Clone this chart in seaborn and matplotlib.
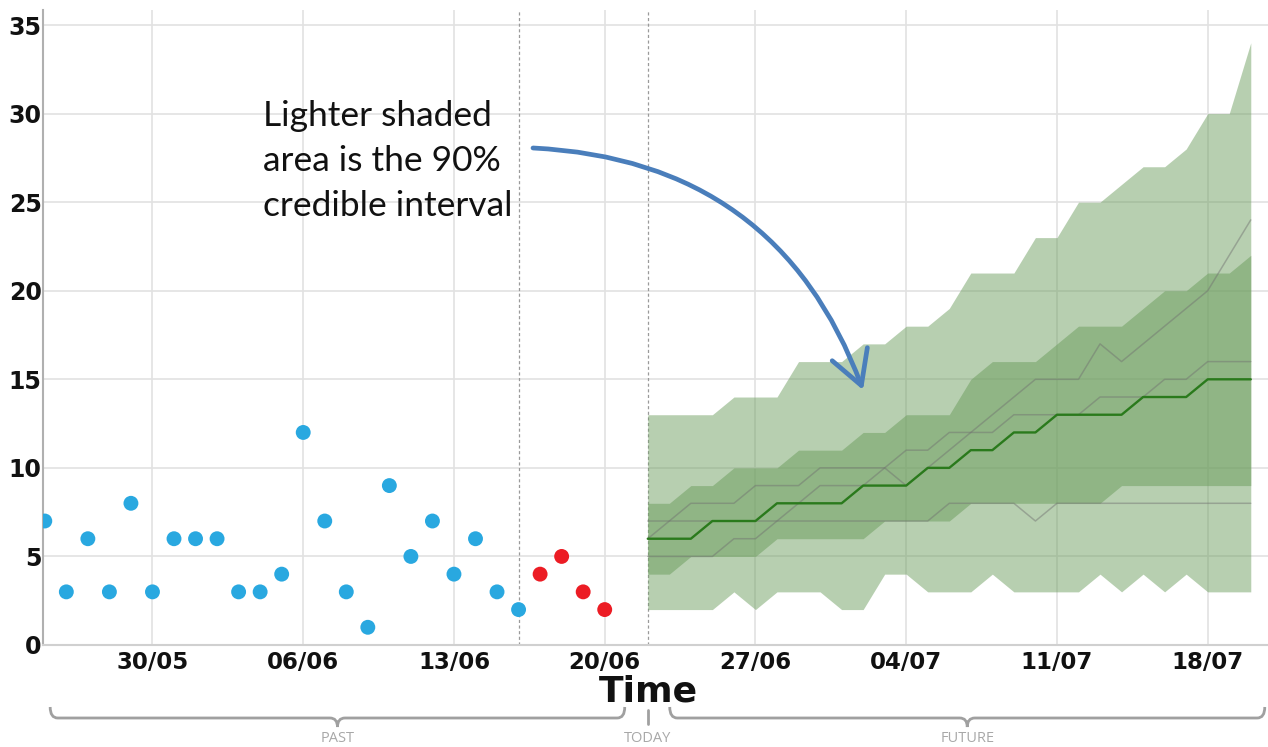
import numpy as np
import pandas as pd
import matplotlib
matplotlib.use("Agg")
import matplotlib.pyplot as plt
import matplotlib.dates as mdates
import matplotlib.transforms as mtransforms
from matplotlib.path import Path
from matplotlib.patches import PathPatch
import seaborn as sns

# ---------------- data ----------------
past_start = "2016-05-25"
past_values = [7, 3, 6, 3, 8, 3, 6, 6, 6, 3, 3, 4, 12, 7, 3, 1, 9, 5, 7, 4, 6, 3, 2]
recent_start = "2016-06-17"
recent_values = [4, 5, 3, 2]
cutoff_date = "2016-06-16"
today_date = "2016-06-22"

forecast_start = "2016-06-22"
median = [6, 6, 6, 7, 7, 7, 8, 8, 8, 8, 9, 9, 9, 10, 10, 11, 11, 12, 12, 13, 13, 13, 13, 14, 14, 14, 15, 15, 15]
inner_low = [4, 4, 5, 5, 5, 5, 6, 6, 6, 6, 6, 7, 7, 7, 7, 8, 8, 8, 8, 8, 8, 8, 9, 9, 9, 9, 9, 9, 9]
inner_high = [8, 8, 9, 9, 10, 10, 10, 11, 11, 11, 12, 12, 13, 13, 13, 15, 16, 16, 16, 17, 18, 18, 18, 19, 20, 20, 21, 21, 22]
outer_low = [2, 2, 2, 2, 3, 2, 3, 3, 3, 2, 2, 4, 4, 3, 3, 3, 4, 3, 3, 3, 3, 4, 3, 4, 3, 4, 3, 3, 3]
outer_high = [13, 13, 13, 13, 14, 14, 14, 16, 16, 16, 17, 17, 18, 18, 19, 21, 21, 21, 23, 23, 25, 25, 26, 27, 27, 28, 30, 30, 34]
traj_low = [7, 7, 7, 7, 7, 7, 7, 7, 7, 7, 7, 7, 7, 7, 8, 8, 8, 8, 7, 8, 8, 8, 8, 8, 8, 8, 8, 8, 8]
traj_mid = [5, 5, 5, 5, 6, 6, 7, 8, 9, 9, 9, 10, 11, 11, 12, 12, 12, 13, 13, 13, 13, 14, 14, 14, 15, 15, 16, 16, 16]
traj_high = [6, 7, 8, 8, 8, 9, 9, 9, 10, 10, 10, 10, 9, 10, 11, 12, 13, 14, 15, 15, 15, 17, 16, 17, 18, 19, 20, 22, 24]

x_tick_labels = ["30/05", "06/06", "13/06", "20/06", "27/06", "04/07", "11/07", "18/07"]
y_ticks = [0, 5, 10, 15, 20, 25, 30, 35]

annotation_text = "Lighter shaded\narea is the 90%\ncredible interval"
x_label = "Time"
brace_labels = ["PAST", "TODAY", "FUTURE"]

# ---------------- frames ----------------
past_dates = pd.date_range(past_start, periods=len(past_values), freq="D")
recent_dates = pd.date_range(recent_start, periods=len(recent_values), freq="D")
obs = pd.DataFrame({
    "date": list(past_dates) + list(recent_dates),
    "value": past_values + recent_values,
    "period": ["past"] * len(past_values) + ["recent"] * len(recent_values),
})
fc_dates = pd.date_range(forecast_start, periods=len(median), freq="D")
fc = pd.DataFrame({
    "date": fc_dates, "median": median,
    "inner_low": inner_low, "inner_high": inner_high,
    "outer_low": outer_low, "outer_high": outer_high,
    "traj_low": traj_low, "traj_mid": traj_mid, "traj_high": traj_high,
})
tick_dates = pd.to_datetime(["2016-" + t[3:] + "-" + t[:2] for t in x_tick_labels])

# ---------------- style ----------------
sns.set_style("white")
plt.rcParams["font.family"] = ["DejaVu Sans"]

fig = plt.figure(figsize=(12.68, 7.47), dpi=100)
ax = fig.add_axes([43 / 1268, 102 / 747, 1225 / 1268, 635 / 747])

band_color = "#70a062"
ax.fill_between(fc["date"], fc["outer_low"], fc["outer_high"], color=band_color, alpha=0.5, lw=0, zorder=2)
ax.fill_between(fc["date"], fc["inner_low"], fc["inner_high"], color=band_color, alpha=0.55, lw=0, zorder=3)

for col in ["traj_low", "traj_mid", "traj_high"]:
    sns.lineplot(data=fc, x="date", y=col, color="#6f6f6f", alpha=0.45, lw=1.1, ax=ax, zorder=4)
sns.lineplot(data=fc, x="date", y="median", color="#2a7a1c", lw=1.7, ax=ax, zorder=5)

sns.scatterplot(data=obs, x="date", y="value", hue="period",
                palette={"past": "#29a8e0", "recent": "#ec1c24"},
                s=115, linewidth=0, legend=False, ax=ax, zorder=6)

for d in [cutoff_date, today_date]:
    ax.axvline(pd.Timestamp(d), color="#9a9a9a", lw=0.9, ls=(0, (2.5, 2)), zorder=1)

# axes limits
x0 = pd.Timestamp(past_start) - pd.Timedelta(hours=2)
x1 = pd.Timestamp(past_start) + pd.Timedelta(days=56.8)
ax.set_xlim(x0, x1)
ax.set_ylim(0, 35.85)

ax.set_xticks(tick_dates)
ax.set_xticklabels(x_tick_labels)
ax.set_yticks(y_ticks)
ax.tick_params(axis="both", length=0, labelsize=17, colors="#111111")
ax.tick_params(axis="y", pad=1)
ax.tick_params(axis="x", pad=4, labelsize=16.5)
for lab in ax.get_xticklabels() + ax.get_yticklabels():
    lab.set_fontweight("bold")

ax.grid(True, color="#e2e2e2", lw=1.2)
ax.set_axisbelow(True)
for s in ["top", "right"]:
    ax.spines[s].set_visible(False)
ax.spines["left"].set_color("#b0b0b0")
ax.spines["left"].set_linewidth(1.5)
ax.spines["bottom"].set_color("#d0d0d0")
ax.spines["bottom"].set_linewidth(1.5)

ax.set_ylabel("")
ax.set_xlabel(x_label, fontsize=26, fontweight="bold", color="#111111")
ax.xaxis.set_label_coords(0.494, -0.046)

# ---------------- annotation ----------------
ax.text(0.1796, 0.859, annotation_text, transform=ax.transAxes, ha="left", va="top",
        fontsize=25.5, family=["Lato", "DejaVu Sans"], color="#111111", linespacing=1.5)
ax.annotate("", xy=(0.6694, 0.4016), xytext=(0.4, 0.7827),
            xycoords="axes fraction", textcoords="axes fraction",
            arrowprops=dict(arrowstyle="->,head_length=0.8,head_width=0.45", mutation_scale=30,
                            color="#4a7ebb", lw=3.4, shrinkA=0, shrinkB=0,
                            connectionstyle="arc3,rad=-0.33"), zorder=8)

# ---------------- braces below the axis ----------------
trans = mtransforms.blended_transform_factory(ax.transData, fig.transFigure)
y_top, y_mid, y_bot = 1 - 707 / 747, 1 - 718 / 747, 1 - 727 / 747
r = 0.35
brace_col = "#a0a0a0"


def brace(a, b):
    a = mdates.date2num(a)
    b = mdates.date2num(b)
    c = (a + b) / 2
    verts = [(a, y_top), (a, y_mid), (a + r, y_mid),
             (c - r, y_mid), (c, y_mid), (c, y_bot),
             (c, y_mid), (c + r, y_mid),
             (b - r, y_mid), (b, y_mid), (b, y_top)]
    codes = [Path.MOVETO, Path.CURVE3, Path.CURVE3,
             Path.LINETO, Path.CURVE3, Path.CURVE3,
             Path.CURVE3, Path.CURVE3,
             Path.LINETO, Path.CURVE3, Path.CURVE3]
    fig.patches.append(PathPatch(Path(verts, codes), transform=trans, fill=False,
                                 edgecolor=brace_col, lw=2.0, clip_on=False))
    return c


today = pd.Timestamp(today_date)
c_past = brace(pd.Timestamp(past_start) + pd.Timedelta(days=0.25), today - pd.Timedelta(days=1.07))
c_fut = brace(today + pd.Timedelta(days=1.02), fc_dates[-1] + pd.Timedelta(days=0.65))
fig.lines.append(plt.Line2D([mdates.date2num(today)] * 2, [1 - 710 / 747, 1 - 724 / 747],
                            transform=trans, color=brace_col, lw=2.0))
label_y = 1 - 739 / 747
for lab, xc in zip(brace_labels, [c_past, mdates.date2num(today), c_fut]):
    fig.text(xc, label_y, lab, transform=trans, ha="center", va="center",
             fontsize=10.5, color="#a8a8a8", family=["Open Sans", "DejaVu Sans"])

fig.savefig("out.png", dpi=100)
